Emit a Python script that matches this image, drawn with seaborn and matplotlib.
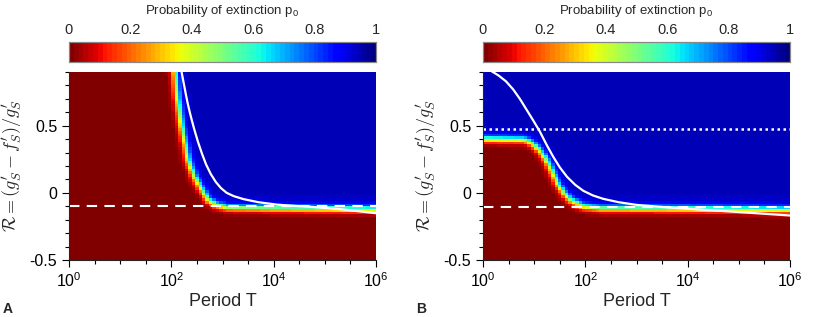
import numpy as np
import pandas as pd
import matplotlib
matplotlib.use("Agg")
import matplotlib.pyplot as plt
import matplotlib.ticker as mticker
import seaborn as sns

# edge of the extinction region (p0 = 0.5): log10(T), R
a_edge_logT = [2.00, 2.07, 2.12, 2.20, 2.33, 2.45, 2.56, 2.72, 2.89, 3.10, 4.00, 5.00, 6.00]
a_edge_R = [1.20, 0.90, 0.70, 0.495, 0.246, 0.12, 0.047, -0.052, -0.09, -0.11, -0.115, -0.118, -0.122]
b_edge_logT = [0.00, 0.80, 0.95, 1.10, 1.25, 1.47, 1.60, 1.70, 1.95, 2.30, 4.00, 6.00]
b_edge_R = [0.40, 0.395, 0.37, 0.32, 0.24, 0.06, -0.01, -0.05, -0.10, -0.115, -0.118, -0.125]

# white solid curves: log10(T), R
a_curve_logT = [2.20, 2.24, 2.28, 2.32, 2.36, 2.40, 2.45, 2.52, 2.60, 2.68, 2.77, 2.87, 2.97,
                3.08, 3.22, 3.41, 3.70, 4.06, 4.40, 4.71, 5.30, 6.00]
a_curve_R = [0.90, 0.82, 0.74, 0.665, 0.60, 0.54, 0.47, 0.38, 0.29, 0.21, 0.14, 0.08, 0.035,
             0.0, -0.025, -0.047, -0.07, -0.088, -0.097, -0.104, -0.122, -0.152]
b_curve_logT = [0.17, 0.30, 0.45, 0.59, 0.72, 0.85, 0.98, 1.11, 1.24, 1.37, 1.50, 1.64, 1.80,
                1.96, 2.15, 2.35, 2.65, 3.00, 3.65, 4.63, 6.00]
b_curve_R = [0.905, 0.875, 0.83, 0.77, 0.70, 0.62, 0.54, 0.457, 0.36, 0.27, 0.19, 0.12, 0.06,
             0.015, -0.02, -0.045, -0.07, -0.09, -0.11, -0.134, -0.169]

# horizontal reference lines
a_dashed = -0.10
b_dashed = -0.107
b_dotted = 0.475

p_low = 0.0    # inside extinction-free region
p_high = 0.94  # blue region

n_col, n_row = 90, 70
logT_c = (np.arange(n_col) + 0.5) * 6.0 / n_col
R_c = 0.9 - (np.arange(n_row) + 0.5) * 1.4 / n_row


def build_field(edge_x, edge_y):
    # signed distance (in screen pixels) from the edge line, blue above/right
    sx, sy = 307 / 6.0, 188 / 1.4
    X, Y = np.meshgrid(logT_c * sx, R_c * sy)
    ex = np.array(edge_x) * sx
    ey = np.array(edge_y) * sy
    d = np.full(X.shape, np.inf)
    for i in range(len(ex) - 1):
        dx, dy = ex[i + 1] - ex[i], ey[i + 1] - ey[i]
        t = ((X - ex[i]) * dx + (Y - ey[i]) * dy) / (dx * dx + dy * dy)
        t = np.clip(t, 0, 1)
        dist = np.hypot(X - ex[i] - t * dx, Y - ey[i] - t * dy)
        d = np.minimum(d, dist)
    rb = np.interp(logT_c, edge_x, edge_y)
    sign = np.where(R_c[:, None] > rb[None, :], 1.0, -1.0)
    d = sign * d
    return p_low + (p_high - p_low) / (1 + np.exp(-d / 2.2))


sns.set_style("ticks")
plt.rcParams["font.family"] = ["Liberation Sans", "DejaVu Sans"]
plt.rcParams["mathtext.fontset"] = "cm"

cmap = plt.get_cmap("jet_r", 64)

fig = plt.figure(figsize=(8.3, 3.17), dpi=100)

panels = [
    ("A", 0.0831, a_edge_logT, a_edge_R, a_curve_logT, a_curve_R, a_dashed, None),
    ("B", 0.5819, b_edge_logT, b_edge_R, b_curve_logT, b_curve_R, b_dashed, b_dotted),
]

for name, left, ex, ey, cx, cy, dash_y, dot_y in panels:
    pos = [left, 0.180, 0.370, 0.593]
    hax = fig.add_axes(pos)
    cax = fig.add_axes([left, 0.804, 0.370, 0.063])
    field = pd.DataFrame(build_field(ex, ey), index=R_c, columns=logT_c)
    sns.heatmap(field, ax=hax, cmap=cmap, vmin=0, vmax=1, cbar_ax=cax,
                cbar_kws={"orientation": "horizontal"},
                xticklabels=False, yticklabels=False)
    hax.set_axis_off()

    cax.xaxis.set_ticks_position("top")
    cax.xaxis.set_label_position("top")
    cax.set_xticks([0, 0.2, 0.4, 0.6, 0.8, 1])
    cax.set_xticklabels(["0", "0.2", "0.4", "0.6", "0.8", "1"], fontsize=10.5)
    cax.tick_params(axis="x", direction="in", length=2, width=0.6, color="#444444", pad=4)
    cax.set_xlabel(r"Probability of extinction $\mathregular{p_0}$", fontsize=9.5, labelpad=6)
    for sp in cax.spines.values():
        sp.set_visible(True)
        sp.set_edgecolor("#888888")
        sp.set_linewidth(0.8)

    ov = fig.add_axes(pos)
    ov.patch.set_alpha(0)
    ov.set_xscale("log")
    ov.plot(10 ** np.array(cx), cy, color="white", lw=1.6, solid_joinstyle="round")
    ov.axhline(dash_y, color="white", lw=1.5, ls=(0, (5, 3.5)))
    if dot_y is not None:
        ov.axhline(dot_y, color="white", lw=1.8, ls=(0, (1, 1.4)))
    ov.set_xlim(1, 1e6)
    ov.set_ylim(-0.5, 0.9)
    ov.xaxis.set_major_locator(mticker.FixedLocator([1, 1e2, 1e4, 1e6]))
    ov.xaxis.set_major_formatter(mticker.FixedFormatter(
        [r"$\mathregular{10^0}$", r"$\mathregular{10^2}$", r"$\mathregular{10^4}$", r"$\mathregular{10^6}$"]))
    ov.xaxis.set_minor_locator(mticker.FixedLocator(10 ** np.arange(0.5, 6, 0.5)))
    ov.xaxis.set_minor_formatter(mticker.NullFormatter())
    ov.set_yticks([-0.5, 0, 0.5])
    ov.set_yticklabels(["-0.5", "0", "0.5"])
    ov.yaxis.set_minor_locator(mticker.MultipleLocator(0.1))
    ov.tick_params(which="major", direction="out", length=5, width=0.8, labelsize=11.5, colors="black")
    ov.tick_params(which="minor", direction="out", length=3, width=0.8, colors="black")
    sns.despine(ax=ov)
    ov.spines["left"].set_linewidth(0.8)
    ov.spines["bottom"].set_linewidth(0.8)
    ov.set_xlabel("Period T", fontsize=13, labelpad=2)
    ov.set_ylabel(r"$\mathcal{R}=(g^\prime_S-f^\prime_S)/g^\prime_S$", fontsize=13, labelpad=4)

    fig.text(left - 0.0805, 0.013, name, fontsize=10, fontweight="bold")

fig.savefig("out.png", dpi=100)
